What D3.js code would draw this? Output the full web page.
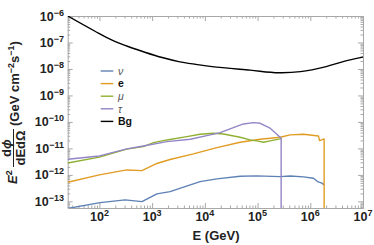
<!DOCTYPE html>
<html>
<head>
<meta charset="utf-8">
<script src="https://cdn.jsdelivr.net/npm/d3@7"></script>
<style>
body { margin: 0; background: #fff; }
text { font-family: "Liberation Sans", Arial, sans-serif; }
</style>
</head>
<body>
<div id="chart"></div>
<script>
// values (E in GeV, flux in GeV cm^-2 s^-1)
const bgE    = [25, 84, 174, 360, 750, 1550, 3200, 6600, 13700, 72000, 2.5e5, 6.5e5, 2e6, 4.2e6, 1e7];
const bgFlux = [1e-6, 2.6e-7, 1.23e-7, 6.9e-8, 4.2e-8, 2.7e-8, 1.9e-8, 1.5e-8, 1.23e-8, 9e-9, 7.2e-9, 7.9e-9, 1.23e-8, 1.9e-8, 2.8e-8];

const nuE    = [25, 103, 307, 640, 1230, 2190, 3930, 8130, 16900, 46700, 97000, 268000, 415000, 743000, 1.15e6, 1.37e6, 1.66e6, 1.83e6];
const nuFlux = [5.4e-14, 9.0e-14, 1.14e-13, 9.8e-14, 1.92e-13, 2.34e-13, 3.43e-13, 5.58e-13, 7.06e-13, 8.93e-13, 9.2e-13, 8.6e-13, 9.1e-13, 8.4e-13, 7.5e-13, 5.6e-13, 4.9e-13, 4.2e-13];

const eE    = [25, 100, 330, 640, 1230, 2190, 6070, 16900, 46700, 112000, 268000, 415000, 743000, 1.43e6, 1.5e6, 1.83e6, 1.83e6];
const eFlux = [5.3e-13, 1.0e-12, 1.54e-12, 1.45e-12, 2.7e-12, 3.8e-12, 6.2e-12, 1.07e-11, 1.71e-11, 2.22e-11, 2.65e-11, 3.24e-11, 3.44e-11, 2.96e-11, 1.97e-11, 2.28e-11, 1e-14];

const muE    = [25, 100, 330, 680, 1060, 1900, 4550, 8100, 14500, 22500, 46700, 72000, 97000, 129000, 173000, 268000, 280000];
const muFlux = [2.8e-12, 4.7e-12, 9.4e-12, 1.17e-11, 1.66e-11, 2.09e-11, 2.79e-11, 3.44e-11, 3.75e-11, 3.52e-11, 2.65e-11, 2.09e-11, 1.92e-11, 1.71e-11, 1.92e-11, 2.28e-11, 2.4e-11];

const tauE    = [25, 100, 330, 680, 1900, 5300, 12600, 19500, 34800, 54000, 84000, 112000, 173000, 232000, 280000, 280000];
const tauFlux = [3.9e-12, 5.2e-12, 9.6e-12, 1.24e-11, 1.81e-11, 2.22e-11, 3.24e-11, 3.94e-11, 6.1e-11, 8.4e-11, 9.4e-11, 8.9e-11, 5.8e-11, 3.4e-11, 2.43e-11, 1e-14];

const legendLabels = ['ν', 'e', 'μ', 'τ', 'Bg'];
const xTickExps = [2, 3, 4, 5, 6, 7];
const yTickExps = [-6, -7, -8, -9, -10, -11, -12, -13];

const width = 374, height = 245;
const plotLeft = 67.7, plotRight = 363, plotTop = 16, plotBottom = 208;

const svg = d3.select('#chart').append('svg')
    .attr('width', width)
    .attr('height', height);

const x = d3.scaleLog().domain([25, 1e7]).range([plotLeft, plotRight]);
const y = d3.scaleLog().domain([Math.pow(10, -13.25), 1e-6]).range([plotBottom, plotTop]);

svg.append('clipPath').attr('id', 'plot')
    .append('rect')
    .attr('x', plotLeft).attr('y', plotTop)
    .attr('width', plotRight - plotLeft).attr('height', plotBottom - plotTop);

// frame with inward ticks on all four sides
const majorX = d3.range(1, 8).map(d => Math.pow(10, d)).filter(v => v >= 25);
const minorX = [];
d3.range(1, 7).forEach(d => d3.range(2, 10).forEach(m => {
    const v = m * Math.pow(10, d);
    if (v > 25 && v < 1e7) minorX.push(v);
}));
const majorY = d3.range(-13, -5).map(d => Math.pow(10, d));
const minorY = [];
d3.range(-14, -6).forEach(d => d3.range(2, 10).forEach(m => {
    const v = m * Math.pow(10, d);
    if (v > Math.pow(10, -13.25) && v < 1e-6) minorY.push(v);
}));

const frameColor = '#a8a8a8';

function frameAxis(axisFn, scale, tr, values, size, keepDomain) {
    const g = svg.append('g')
        .attr('transform', tr)
        .call(axisFn(scale).tickValues(values).tickSizeInner(-size).tickSizeOuter(0).tickFormat(''));
    g.selectAll('line').attr('stroke', frameColor);
    g.select('.domain').attr('stroke', frameColor).attr('display', keepDomain ? null : 'none');
    g.selectAll('text').remove();
}

frameAxis(d3.axisBottom, x, `translate(0,${plotBottom})`, majorX, 5, true);
frameAxis(d3.axisBottom, x, `translate(0,${plotBottom})`, minorX, 2.5, false);
frameAxis(d3.axisTop, x, `translate(0,${plotTop})`, majorX, 5, true);
frameAxis(d3.axisTop, x, `translate(0,${plotTop})`, minorX, 2.5, false);
frameAxis(d3.axisLeft, y, `translate(${plotLeft},0)`, majorY, 5, true);
frameAxis(d3.axisLeft, y, `translate(${plotLeft},0)`, minorY, 2.5, false);
frameAxis(d3.axisRight, y, `translate(${plotRight},0)`, majorY, 5, true);
frameAxis(d3.axisRight, y, `translate(${plotRight},0)`, minorY, 2.5, false);

// tick labels as 10^n
function powerLabel(sel, exp) {
    sel.append('tspan').text('10');
    sel.append('tspan')
        .attr('dy', -5)
        .attr('font-size', 9)
        .text(String(exp).replace('-', '−'));
}

xTickExps.forEach(e => {
    svg.append('text')
        .attr('x', x(Math.pow(10, e)))
        .attr('y', 221)
        .attr('text-anchor', 'middle')
        .attr('font-size', 12.5)
        .attr('font-weight', 'bold')
        .attr('fill', '#222')
        .call(powerLabel, e);
});

yTickExps.forEach(e => {
    svg.append('text')
        .attr('x', 64)
        .attr('y', y(Math.pow(10, e)) + 4.5)
        .attr('text-anchor', 'end')
        .attr('font-size', 12.5)
        .attr('font-weight', 'bold')
        .attr('fill', '#222')
        .call(powerLabel, e);
});

// axis titles
svg.append('text')
    .attr('x', 216)
    .attr('y', 240)
    .attr('text-anchor', 'middle')
    .attr('font-size', 13)
    .attr('font-weight', 'bold')
    .attr('fill', '#222')
    .text('E (GeV)');

const yt = svg.append('g')
    .attr('transform', 'translate(15.5,184) rotate(-90)')
    .attr('font-size', 13)
    .attr('font-weight', 'bold')
    .attr('fill', '#222');

const eText = yt.append('text').attr('x', 0).attr('y', 1.5);
eText.append('tspan').attr('font-style', 'italic').text('E');
eText.append('tspan').attr('dy', -5).attr('font-size', 9).text('2');

yt.append('line')
    .attr('x1', 17).attr('x2', 55)
    .attr('y1', -2).attr('y2', -2)
    .attr('stroke', '#222').attr('stroke-width', 1);
yt.append('text').attr('x', 36).attr('y', -5).attr('text-anchor', 'middle')
    .html('d<tspan font-style="italic">ϕ</tspan>');
yt.append('text').attr('x', 36).attr('y', 9).attr('text-anchor', 'middle')
    .text('dEdΩ');

const unitText = yt.append('text').attr('x', 58).attr('y', 3.5);
unitText.append('tspan').text('(GeV cm');
unitText.append('tspan').attr('dy', -5).attr('font-size', 9).text('−2');
unitText.append('tspan').attr('dy', 5).text('s');
unitText.append('tspan').attr('dy', -5).attr('font-size', 9).text('−1');
unitText.append('tspan').attr('dy', 5).text(')');

// curves
const plot = svg.append('g').attr('clip-path', 'url(#plot)');

const series = [
    { es: bgE, fs: bgFlux, color: '#000000', curve: d3.curveCatmullRom },
    { es: nuE, fs: nuFlux, color: '#5e81b5', curve: d3.curveLinear },
    { es: eE, fs: eFlux, color: '#e19c24', curve: d3.curveLinear },
    { es: muE, fs: muFlux, color: '#8fb032', curve: d3.curveLinear },
    { es: tauE, fs: tauFlux, color: '#9485c6', curve: d3.curveLinear }
];

series.forEach(s => {
    const line = d3.line()
        .x((d, i) => x(s.es[i]))
        .y((d, i) => y(s.fs[i]))
        .curve(s.curve);
    plot.append('path')
        .attr('d', line(s.es))
        .attr('fill', 'none')
        .attr('stroke', s.color)
        .attr('stroke-width', 1.4)
        .attr('stroke-linejoin', 'round');
});

// legend
const legendColors = ['#5e81b5', '#e19c24', '#8fb032', '#9485c6', '#000000'];
const legend = svg.append('g');
legendLabels.forEach((lab, i) => {
    const ly = 71 + i * 12.6;
    legend.append('line')
        .attr('x1', 100.7).attr('x2', 113.3)
        .attr('y1', ly).attr('y2', ly)
        .attr('stroke', legendColors[i])
        .attr('stroke-width', 1.4);
    const greek = i === 0 || i === 2 || i === 3;
    legend.append('text')
        .attr('x', 118)
        .attr('y', ly + 3.8)
        .attr('font-size', 10.5)
        .attr('font-style', greek ? 'italic' : 'normal')
        .attr('font-weight', greek ? 'normal' : 'bold')
        .attr('fill', greek ? '#555' : '#111')
        .text(lab);
});
</script>
</body>
</html>
